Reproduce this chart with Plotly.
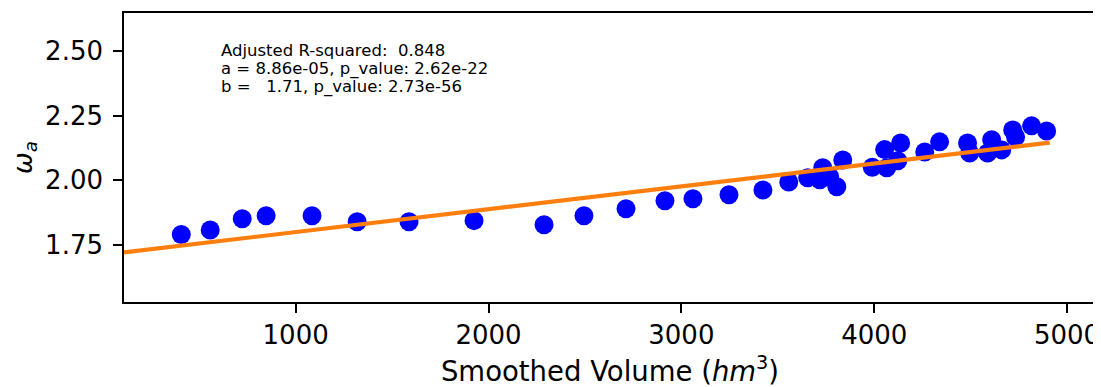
import plotly.graph_objects as go

# smoothed volume (hm^3) vs omega_a
volume = [407, 557, 723, 847, 1085, 1319, 1588, 1925, 2288, 2495,
          2713, 2915, 3060, 3247, 3423, 3557,
          3655, 3718, 3733, 3769, 3806, 3837,
          3990, 4054, 4065, 4122, 4137, 4262, 4339, 4484, 4495,
          4588, 4609, 4661, 4718, 4733, 4816, 4894]
omega = [1.789, 1.807, 1.850, 1.862, 1.862, 1.839, 1.839, 1.843, 1.827, 1.862,
         1.889, 1.920, 1.928, 1.943, 1.962, 1.993,
         2.009, 2.001, 2.048, 2.013, 1.974, 2.078,
         2.050, 2.118, 2.048, 2.075, 2.144, 2.109, 2.148, 2.144, 2.105,
         2.105, 2.156, 2.117, 2.194, 2.167, 2.210, 2.190]

# fitted line endpoints (y = a*x + b)
fit_x = [110, 4910]
fit_y = [1.720, 2.145]

stats_lines = [
    "Adjusted R-squared:  0.848",
    "a = 8.86e-05, p_value: 2.62e-22",
    "b =   1.71, p_value: 2.73e-56",
]

fig = go.Figure()
fig.add_trace(go.Scatter(x=volume, y=omega, mode="markers",
                         marker=dict(color="#0000ff", size=19), showlegend=False))
fig.add_trace(go.Scatter(x=fit_x, y=fit_y, mode="lines",
                         line=dict(color="#ff7f0e", width=4.2), showlegend=False))

for i, line in enumerate(stats_lines):
    fig.add_annotation(x=0.0974, y=0.8705 - i * 0.0632, xref="paper", yref="paper",
                       text=line.replace(" ", "\u00a0"), showarrow=False,
                       xanchor="left", yanchor="middle",
                       font=dict(size=16.5, color="black"))

axis_common = dict(showline=True, linecolor="black", linewidth=1.6, mirror=True,
                   ticks="outside", ticklen=9, tickwidth=1.6, tickcolor="black",
                   showgrid=False, zeroline=False, automargin=False,
                   tickfont=dict(size=26, color="black"))

fig.update_xaxes(range=[110, 5150], tickvals=[1000, 2000, 3000, 4000, 5000],
                 title=dict(text="Smoothed Volume (<i>hm</i><sup>3</sup>)",
                            font=dict(size=27.5, color="black"), standoff=13),
                 **axis_common)
fig.update_yaxes(range=[1.528, 2.647], tickvals=[1.75, 2.0, 2.25, 2.5],
                 ticktext=["1.75", "2.00", "2.25", "2.50"], ticklabelstandoff=5,
                 title=dict(text="<i>ω</i><sub><i>a</i></sub>",
                            font=dict(size=26, color="black"), standoff=11),
                 **axis_common)

# page body adds ~8px offset, so margins are shifted to compensate
fig.update_layout(width=1101, height=379,
                  margin=dict(l=116, r=13, t=5, b=84.5),
                  paper_bgcolor="white", plot_bgcolor="white",
                  font=dict(family="DejaVu Sans", color="black"))

fig.write_html("out.html")
